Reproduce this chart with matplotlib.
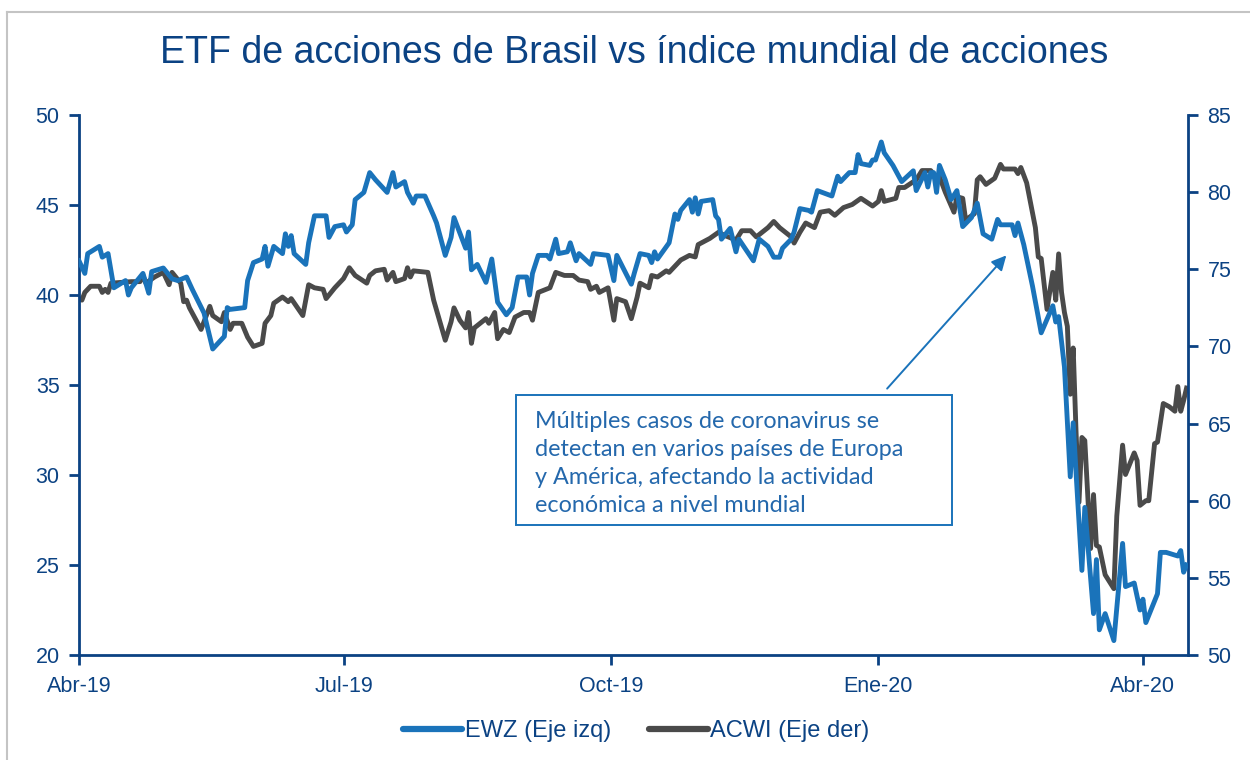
import matplotlib
matplotlib.use("Agg")
import matplotlib.pyplot as plt
from matplotlib.lines import Line2D
from matplotlib.patches import Rectangle
import pandas as pd

# ---------------- data ----------------
ewz_dates = [
    "2019-04-01", "2019-04-03", "2019-04-04", "2019-04-08", "2019-04-09", "2019-04-11", "2019-04-13",
    "2019-04-17", "2019-04-18", "2019-04-19", "2019-04-23", "2019-04-25", "2019-04-26", "2019-04-30",
    "2019-05-03", "2019-05-05", "2019-05-08", "2019-05-10", "2019-05-14", "2019-05-17", "2019-05-21",
    "2019-05-22", "2019-05-23", "2019-05-28", "2019-05-29", "2019-05-31", "2019-06-03", "2019-06-04",
    "2019-06-05", "2019-06-07", "2019-06-10", "2019-06-11", "2019-06-12", "2019-06-13", "2019-06-14",
    "2019-06-18", "2019-06-19", "2019-06-21", "2019-06-25", "2019-06-26", "2019-06-28", "2019-07-01",
    "2019-07-02", "2019-07-04", "2019-07-05", "2019-07-08", "2019-07-10", "2019-07-12", "2019-07-16",
    "2019-07-18", "2019-07-19", "2019-07-22", "2019-07-23", "2019-07-25", "2019-07-26", "2019-07-29",
    "2019-08-01", "2019-08-02", "2019-08-05", "2019-08-07", "2019-08-08", "2019-08-12", "2019-08-13",
    "2019-08-14", "2019-08-16", "2019-08-19", "2019-08-21", "2019-08-23", "2019-08-26", "2019-08-28",
    "2019-08-30", "2019-09-02", "2019-09-03", "2019-09-04", "2019-09-06", "2019-09-09", "2019-09-10",
    "2019-09-12", "2019-09-13", "2019-09-16", "2019-09-17", "2019-09-19", "2019-09-20", "2019-09-24",
    "2019-09-25", "2019-09-30", "2019-10-02", "2019-10-03", "2019-10-08", "2019-10-09", "2019-10-11",
    "2019-10-14", "2019-10-15", "2019-10-16", "2019-10-17", "2019-10-21", "2019-10-23", "2019-10-24",
    "2019-10-25", "2019-10-28", "2019-10-29", "2019-10-30", "2019-10-31", "2019-11-01", "2019-11-05",
    "2019-11-06", "2019-11-07", "2019-11-08", "2019-11-11", "2019-11-13", "2019-11-14", "2019-11-19",
    "2019-11-21", "2019-11-24", "2019-11-26", "2019-11-28", "2019-11-29", "2019-12-02", "2019-12-03",
    "2019-12-05", "2019-12-08", "2019-12-09", "2019-12-11", "2019-12-16", "2019-12-18", "2019-12-19",
    "2019-12-22", "2019-12-24", "2019-12-25", "2019-12-26", "2019-12-29", "2019-12-30", "2019-12-31",
    "2020-01-02", "2020-01-03", "2020-01-06", "2020-01-09", "2020-01-13", "2020-01-14", "2020-01-17",
    "2020-01-18", "2020-01-19", "2020-01-20", "2020-01-21", "2020-01-22", "2020-01-24", "2020-01-26",
    "2020-01-28", "2020-01-30", "2020-02-02", "2020-02-04", "2020-02-06", "2020-02-09", "2020-02-11",
    "2020-02-12", "2020-02-16", "2020-02-17", "2020-02-18", "2020-02-20", "2020-02-23", "2020-02-26",
    "2020-03-01", "2020-03-02", "2020-03-03", "2020-03-05", "2020-03-07", "2020-03-08", "2020-03-09",
    "2020-03-11", "2020-03-12", "2020-03-15", "2020-03-16", "2020-03-17", "2020-03-19", "2020-03-22",
    "2020-03-25", "2020-03-26", "2020-03-29", "2020-03-31", "2020-04-01", "2020-04-02", "2020-04-06",
    "2020-04-07", "2020-04-09", "2020-04-13", "2020-04-14", "2020-04-15", "2020-04-16",
]
ewz_values = [
    41.9, 41.2, 42.3, 42.7, 42.1, 42.3, 40.4,
    40.8, 40.0, 40.4, 41.2, 40.1, 41.3, 41.5,
    40.9, 40.8, 41.0, 40.3, 39.0, 37.0, 37.7,
    39.3, 39.2, 39.3, 40.8, 41.8, 42.0, 42.7,
    41.6, 42.7, 42.3, 43.4, 42.7, 43.3, 42.3,
    41.7, 42.9, 44.4, 44.4, 43.2, 43.8, 43.9,
    43.5, 43.9, 45.3, 45.7, 46.8, 46.4, 45.7,
    46.8, 46.0, 46.3, 45.7, 45.1, 45.5, 45.5,
    44.4, 44.0, 42.2, 43.2, 44.3, 42.6, 43.5,
    41.4, 41.7, 40.7, 42.0, 39.6, 38.9, 39.3,
    41.0, 41.0, 40.0, 41.2, 42.2, 42.2, 42.0,
    43.1, 42.3, 42.4, 42.9, 41.9, 42.3, 41.7,
    42.3, 42.2, 40.8, 42.2, 40.6, 41.2, 42.3,
    42.2, 41.8, 42.4, 42.0, 42.9, 44.5, 44.2,
    44.7, 45.3, 44.6, 45.4, 44.5, 45.2, 45.3,
    44.4, 44.2, 43.1, 43.7, 42.4, 43.1, 41.9,
    43.1, 42.7, 42.1, 42.1, 42.6, 43.1, 43.5,
    44.8, 44.7, 44.6, 45.8, 45.5, 46.6, 46.3,
    46.8, 46.8, 47.8, 47.3, 47.2, 47.5, 47.5,
    48.5, 47.9, 47.2, 46.3, 46.9, 45.8, 46.8,
    46.0, 46.8, 46.8, 45.7, 47.2, 46.4, 45.3,
    45.8, 43.8, 44.3, 45.1, 43.4, 43.1, 44.2,
    43.9, 43.9, 43.3, 44.0, 42.8, 40.5, 37.9,
    39.4, 38.5, 38.8, 36.0, 29.9, 32.9, 30.1,
    24.7, 28.2, 22.3, 25.3, 21.4, 22.3, 20.8,
    26.2, 23.8, 24.0, 22.5, 23.1, 21.8, 23.4,
    25.7, 25.7, 25.5, 25.8, 24.6, 25.0,
]

acwi_dates = [
    "2019-04-01", "2019-04-02", "2019-04-03", "2019-04-05", "2019-04-08", "2019-04-09", "2019-04-10",
    "2019-04-11", "2019-04-12", "2019-04-19", "2019-04-22", "2019-04-23", "2019-04-24", "2019-04-27",
    "2019-04-30", "2019-05-02", "2019-05-03", "2019-05-06", "2019-05-07", "2019-05-08", "2019-05-09",
    "2019-05-13", "2019-05-16", "2019-05-17", "2019-05-20", "2019-05-21", "2019-05-23", "2019-05-24",
    "2019-05-27", "2019-05-29", "2019-05-31", "2019-06-03", "2019-06-04", "2019-06-06", "2019-06-07",
    "2019-06-10", "2019-06-12", "2019-06-13", "2019-06-17", "2019-06-18", "2019-06-19", "2019-06-21",
    "2019-06-24", "2019-06-25", "2019-06-28", "2019-07-01", "2019-07-03", "2019-07-05", "2019-07-09",
    "2019-07-10", "2019-07-12", "2019-07-15", "2019-07-16", "2019-07-18", "2019-07-19", "2019-07-22",
    "2019-07-23", "2019-07-24", "2019-07-25", "2019-07-30", "2019-08-01", "2019-08-05", "2019-08-07",
    "2019-08-08", "2019-08-10", "2019-08-12", "2019-08-13", "2019-08-14", "2019-08-15", "2019-08-19",
    "2019-08-20", "2019-08-22", "2019-08-23", "2019-08-25", "2019-08-27", "2019-08-29", "2019-09-01",
    "2019-09-03", "2019-09-04", "2019-09-06", "2019-09-10", "2019-09-12", "2019-09-15", "2019-09-18",
    "2019-09-20", "2019-09-23", "2019-09-24", "2019-09-26", "2019-09-27", "2019-09-30", "2019-10-02",
    "2019-10-03", "2019-10-06", "2019-10-08", "2019-10-10", "2019-10-11", "2019-10-14", "2019-10-15",
    "2019-10-17", "2019-10-20", "2019-10-21", "2019-10-25", "2019-10-28", "2019-10-30", "2019-10-31",
    "2019-11-04", "2019-11-07", "2019-11-09", "2019-11-13", "2019-11-15", "2019-11-18", "2019-11-20",
    "2019-11-24", "2019-11-26", "2019-11-28", "2019-12-02", "2019-12-03", "2019-12-05", "2019-12-07",
    "2019-12-10", "2019-12-12", "2019-12-15", "2019-12-17", "2019-12-20", "2019-12-23", "2019-12-26",
    "2019-12-30", "2020-01-01", "2020-01-02", "2020-01-03", "2020-01-07", "2020-01-08", "2020-01-10",
    "2020-01-14", "2020-01-16", "2020-01-19", "2020-01-21", "2020-01-22", "2020-01-24", "2020-01-27",
    "2020-01-28", "2020-01-30", "2020-01-31", "2020-02-03", "2020-02-04", "2020-02-05", "2020-02-07",
    "2020-02-10", "2020-02-12", "2020-02-13", "2020-02-17", "2020-02-18", "2020-02-19", "2020-02-21",
    "2020-02-24", "2020-02-25", "2020-02-26", "2020-02-28", "2020-03-01", "2020-03-02", "2020-03-03",
    "2020-03-04", "2020-03-05", "2020-03-06", "2020-03-07", "2020-03-08", "2020-03-09", "2020-03-10",
    "2020-03-11", "2020-03-12", "2020-03-14", "2020-03-15", "2020-03-16", "2020-03-17", "2020-03-19",
    "2020-03-22", "2020-03-23", "2020-03-25", "2020-03-26", "2020-03-29", "2020-03-30", "2020-03-31",
    "2020-04-02", "2020-04-03", "2020-04-05", "2020-04-06", "2020-04-08", "2020-04-10", "2020-04-12",
    "2020-04-13", "2020-04-14", "2020-04-15", "2020-04-16",
]
acwi_values = [
    73.1, 73.0, 73.5, 73.9, 73.9, 73.5, 73.7,
    73.5, 74.1, 74.2, 74.2, 74.6, 74.1, 74.5,
    74.8, 74.0, 74.8, 74.1, 72.9, 73.0, 72.5,
    71.1, 72.6, 72.0, 71.6, 72.2, 71.1, 71.5,
    71.5, 70.6, 70.0, 70.2, 71.5, 72.0, 72.8,
    73.2, 72.9, 73.1, 72.0, 73.0, 74.0, 73.8,
    73.7, 73.1, 73.8, 74.4, 75.1, 74.6, 74.1,
    74.6, 74.9, 75.0, 74.3, 74.8, 74.2, 74.4,
    75.1, 74.5, 74.9, 74.8, 73.0, 70.4, 71.6,
    72.5, 71.7, 71.2, 72.2, 70.2, 71.2, 71.8,
    71.5, 72.2, 70.5, 71.1, 70.9, 71.9, 72.2,
    72.2, 71.7, 73.5, 73.8, 74.8, 74.6, 74.6,
    74.3, 74.2, 73.7, 73.9, 73.5, 73.8, 71.7,
    73.1, 72.9, 71.8, 73.2, 74.1, 73.8, 74.6,
    74.5, 74.9, 74.8, 75.6, 75.9, 75.8, 76.6,
    77.0, 77.4, 77.2, 76.9, 77.5, 77.5, 77.1,
    77.7, 78.1, 77.7, 77.1, 76.7, 77.4, 78.0,
    77.7, 78.7, 78.8, 78.5, 79.0, 79.2, 79.6,
    79.1, 79.4, 80.1, 79.4, 79.6, 80.3, 80.3,
    80.8, 81.4, 81.4, 80.9, 81.0, 80.0, 78.7,
    79.7, 79.6, 78.2, 78.6, 80.8, 81.0, 80.5,
    80.9, 81.8, 81.5, 81.5, 81.2, 81.6, 80.6,
    77.7, 75.8, 75.7, 72.4, 74.8, 73.0, 76.0,
    73.5, 72.2, 71.3, 66.9, 69.9, 64.4, 59.9,
    64.1, 63.9, 56.9, 60.4, 57.1, 57.0, 55.2,
    54.3, 59.0, 63.6, 61.7, 63.1, 62.6, 59.7,
    60.0, 60.0, 63.7, 63.8, 66.3, 66.1, 65.8,
    67.4, 65.8, 66.5, 67.3,
]

tick_dates = ["2019-04-01", "2019-07-01", "2019-10-01", "2020-01-01", "2020-04-01"]
tick_labels = ["Abr-19", "Jul-19", "Oct-19", "Ene-20", "Abr-20"]
left_ticks = [20, 25, 30, 35, 40, 45, 50]
right_ticks = [50, 55, 60, 65, 70, 75, 80, 85]

title = "ETF de acciones de Brasil vs índice mundial de acciones"
series_names = ["EWZ (Eje izq)", "ACWI (Eje der)"]
note = ("Múltiples casos de coronavirus se\n"
        "detectan en varios países de Europa\n"
        "y América, afectando la actividad\n"
        "económica a nivel mundial")

# ---------------- style ----------------
NAVY = "#0B4283"
BLUE = "#1A73BA"
NOTE_BLUE = "#2468AC"
GREY = "#4A4A4A"
plt.rcParams["font.family"] = ["Liberation Sans", "DejaVu Sans"]

fig = plt.figure(figsize=(12.5, 7.6), dpi=100)
ax = fig.add_axes([79 / 1250, 1 - 655 / 760, (1188 - 79) / 1250, (655 - 115) / 760])
ax2 = ax.twinx()

ewz_x = pd.to_datetime(ewz_dates)
acwi_x = pd.to_datetime(acwi_dates)

ax2.plot(acwi_x, acwi_values, color=GREY, lw=3.5, solid_joinstyle="round", zorder=2)
ax.plot(ewz_x, ewz_values, color=BLUE, lw=3.5, solid_joinstyle="round", zorder=3)
ax.set_zorder(ax2.get_zorder() + 1)
ax.patch.set_visible(False)

ax.set_xlim(pd.Timestamp("2019-04-01"), pd.Timestamp("2020-04-16 12:00"))
ax.set_ylim(20, 50)
ax2.set_ylim(50, 85)
ax.set_yticks(left_ticks)
ax2.set_yticks(right_ticks)
ax.set_xticks(pd.to_datetime(tick_dates))
ax.set_xticklabels(tick_labels)

for a in (ax, ax2):
    a.spines["top"].set_visible(False)
    for s in ("left", "right", "bottom"):
        a.spines[s].set_color(NAVY)
        a.spines[s].set_linewidth(2)
    a.tick_params(axis="both", colors=NAVY, labelsize=15.5, length=7, width=2,
                  direction="out", pad=7)
ax.tick_params(axis="x", pad=8)
ax.spines["right"].set_visible(False)
ax2.spines["left"].set_visible(False)
ax2.spines["bottom"].set_visible(False)

# annotation box
ax.add_patch(Rectangle((0.394, 0.241), 0.393, 0.240, transform=ax.transAxes,
                       fill=False, edgecolor=BLUE, lw=1.4, zorder=5))
ax.text(0.411, 0.452, note, transform=ax.transAxes, ha="left", va="top",
        fontsize=16.8, color=NOTE_BLUE, linespacing=1.42,
        family=["Lato", "DejaVu Sans"], zorder=6)
ax.annotate("", xy=(pd.Timestamp("2020-02-14"), 42.2),
            xytext=(pd.Timestamp("2020-01-04"), 34.8),
            arrowprops=dict(arrowstyle="-|>", color=BLUE, lw=1.4,
                            mutation_scale=22, shrinkA=0, shrinkB=0),
            zorder=6)

# title
fig.text(0.507, 1 - 53 / 760, title, ha="center", va="center",
         fontsize=27, color=NAVY)

# legend
handles = [Line2D([], [], color=BLUE, lw=4.5, solid_capstyle="round"),
           Line2D([], [], color=GREY, lw=4.5, solid_capstyle="round")]
leg = fig.legend(handles, series_names, loc="center", bbox_to_anchor=(0.509, 1 - 731 / 760),
                 ncol=2, frameon=False, fontsize=17, handlelength=2.5,
                 handletextpad=0.1, columnspacing=1.6)
for t in leg.get_texts():
    t.set_color(NAVY)

# outer light frame
fig.add_artist(Line2D([7 / 1250, 1], [1 - 12 / 760, 1 - 12 / 760], color="#C4C4C4", lw=1.5,
                      transform=fig.transFigure))
fig.add_artist(Line2D([7 / 1250, 7 / 1250], [0, 1 - 12 / 760], color="#C4C4C4", lw=1.5,
                      transform=fig.transFigure))

fig.savefig("out.png", dpi=100)
